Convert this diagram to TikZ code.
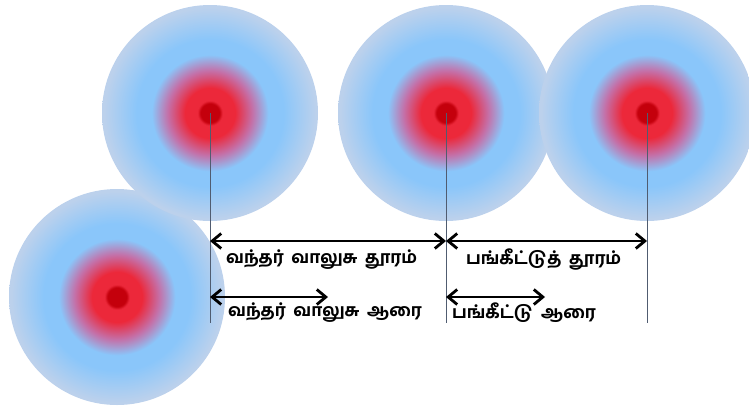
\documentclass[tikz,border=0pt]{standalone}
\usepackage{fontspec}
\newfontfamily\tamilfont[Script=Tamil, WordSpace=1.8]{Hind Madurai Bold}
\usetikzlibrary{arrows.meta}

\definecolor{spotdark}{RGB}{196,0,12}
\definecolor{spotred}{RGB}{236,40,58}
\definecolor{spotpink}{RGB}{196,112,168}
\definecolor{spotblue}{RGB}{138,198,250}
\definecolor{spotedge}{RGB}{188,209,236}
\definecolor{guide}{RGB}{80,92,112}

\pgfdeclareradialshading{spotshade}{\pgfpoint{0bp}{0bp}}{%
  color(0bp)=(spotdark); color(2.2bp)=(spotdark); color(2.9bp)=(spotred);
  color(5.8bp)=(spotred); color(9.8bp)=(spotpink); color(13.5bp)=(spotblue);
  color(17bp)=(spotblue); color(24.5bp)=(spotedge); color(50bp)=(spotedge)}

\begin{document}
\begin{tikzpicture}[
    x=1pt, y=-1pt,
    spot/.style={circle, shade, shading=spotshade, draw=none, inner sep=0pt, minimum size=216pt},
    guideline/.style={draw=guide, line width=0.8pt},
    span/.style={line width=2.8pt, {Straight Barb[length=9pt, width=15pt]}-{Straight Barb[length=9pt, width=15pt]}},
    lbl/.style={anchor=west, inner sep=0pt, font=\tamilfont\fontsize{17}{20}\selectfont}
]
    \useasboundingbox (0,0) rectangle (749,410);

    % Define spots
    \node[spot] (S4) at (117,297) {};   % lower left
    \node[spot] (S1) at (210,113) {};
    \node[spot] (S2) at (446,113) {};
    \node[spot] (S3) at (647,113) {};

    % Define coordinates
    \coordinate (E1) at (210,323);
    \coordinate (E2) at (446,323);
    \coordinate (E3) at (647,323);
    \coordinate (A1) at (210,241);   % upper arrows
    \coordinate (A2) at (446,241);
    \coordinate (A3) at (647,241);
    \coordinate (R1) at (210,297);   % lower arrows
    \coordinate (R1e) at (328,297);
    \coordinate (R2) at (446,297);
    \coordinate (R2e) at (545,297);

    % Draw guide lines from the centres
    \draw[guideline] (S1.center) -- (E1);
    \draw[guideline] (S2.center) -- (E2);
    \draw[guideline] (S3.center) -- (E3);

    % Draw distances
    \draw[span] (A1) -- (A2);
    \draw[span] (A2) -- (A3);
    \draw[span] (R1) -- (R1e);
    \draw[span] (R2) -- (R2e);

    % Draw labels
    \node[lbl] (L1) at (226,260) {வந்தர் வாலுசு தூரம்};
    \node[lbl] (L2) at (466,260) {பங்கீட்டுத் தூரம்};
    \node[lbl] (L3) at (228,313) {வந்தர் வாலுசு ஆரை};
    \node[lbl] (L4) at (452,313) {பங்கீட்டு ஆரை};

\end{tikzpicture}
\end{document}
